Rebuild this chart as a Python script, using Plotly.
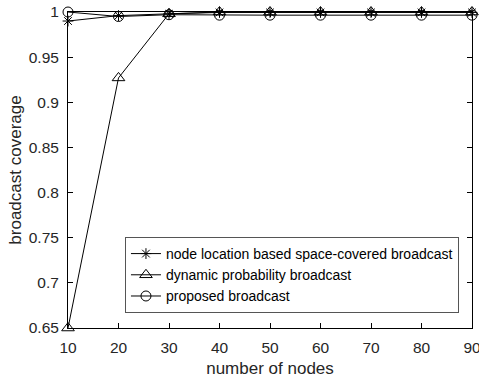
import plotly.graph_objects as go

nodes = [10, 20, 30, 40, 50, 60, 70, 80, 90]
space_covered = [0.990, 0.996, 0.998, 0.9995, 0.9995, 0.9995, 0.9995, 0.9995, 0.9995]
dynamic_prob = [0.650, 0.927, 0.998, 1.000, 1.000, 1.000, 1.000, 1.000, 1.000]
proposed = [1.000, 0.995, 0.997, 0.9965, 0.9965, 0.9965, 0.9965, 0.9965, 0.9965]

names = ["node location based space-covered broadcast",
         "dynamic probability broadcast",
         "proposed broadcast"]
x_ticks = [10, 20, 30, 40, 50, 60, 70, 80, 90]
y_ticks = [0.65, 0.7, 0.75, 0.8, 0.85, 0.9, 0.95, 1]
y_labels = ["0.65", "0.7", "0.75", "0.8", "0.85", "0.9", "0.95", "1"]

fig = go.Figure()
series = [(space_covered, "asterisk-open", 9), (dynamic_prob, "triangle-up-open", 11),
          (proposed, "circle-open", 10)]
for (vals, sym, sz), nm in zip(series, names):
    fig.add_trace(go.Scatter(
        x=nodes, y=vals, name=nm, mode="lines+markers",
        line=dict(color="black", width=1),
        marker=dict(symbol=sym, size=sz, color="black", line=dict(color="black", width=1)),
        cliponaxis=False,
    ))

axis_common = dict(showline=True, linecolor="black", linewidth=1, mirror="ticks",
                   ticks="inside", ticklen=5, tickcolor="black", showgrid=False,
                   zeroline=False, automargin=False, ticklabeloverflow="allow",
                   ticklabelstandoff=5,
                   tickfont=dict(size=15.5, color="#262626"))
fig.update_layout(
    width=479, height=380,
    margin=dict(l=68, r=7, t=12, b=52),
    paper_bgcolor="white", plot_bgcolor="white",
    font=dict(family="Liberation Sans, Arial, sans-serif", color="#262626"),
    xaxis=dict(range=[10, 90], tickvals=x_ticks,
               title=dict(text="number of nodes", font=dict(size=17), standoff=7),
               **axis_common),
    yaxis=dict(range=[0.65, 1.0], tickvals=y_ticks, ticktext=y_labels,
               title=dict(text="broadcast coverage", font=dict(size=17), standoff=2),
               **axis_common),
    legend=dict(x=0.141, y=0.288, xanchor="left", yanchor="top",
                bgcolor="white", bordercolor="#555555", borderwidth=1,
                font=dict(size=14, color="black"), tracegroupgap=0,
                itemwidth=30),
    showlegend=True,
)

fig.write_html("out.html", config={"displayModeBar": False},
               post_script="document.body.style.margin='0';")
